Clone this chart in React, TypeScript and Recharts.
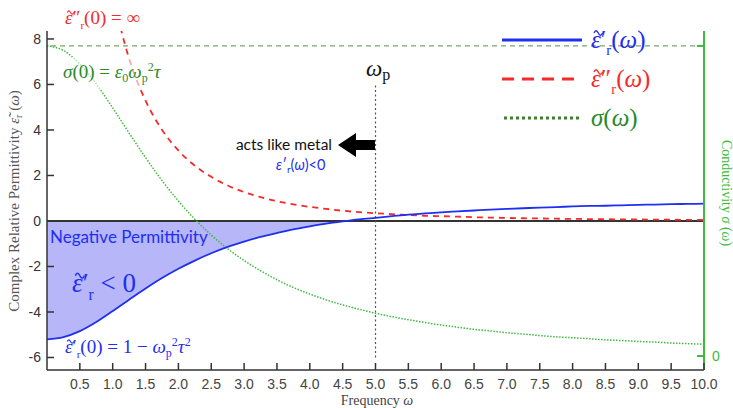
import React from "react";
import {
  Area,
  ComposedChart,
  Line,
  ReferenceLine,
  XAxis,
  YAxis,
} from "recharts";

// frequency samples (x)
const omega = [
  0, 0.25, 0.5, 0.75, 1.0, 1.25, 1.5, 1.75, 2.0, 2.25, 2.5, 2.75, 3.0, 3.25,
  3.5, 3.75, 4.0, 4.25, 4.5, 4.75, 5.0, 5.25, 5.5, 5.75, 6.0, 6.25, 6.5, 6.75,
  7.0, 7.25, 7.5, 7.75, 8.0, 8.25, 8.5, 8.75, 9.0, 9.25, 9.5, 9.75, 10.0,
];

// real part of permittivity (blue, left axis)
const epsReal = [
  -5.2, -5.1, -4.84, -4.44, -3.96, -3.46, -2.97, -2.51, -2.1, -1.74, -1.42,
  -1.14, -0.91, -0.7, -0.53, -0.37, -0.24, -0.12, -0.02, 0.07, 0.14, 0.21,
  0.28, 0.33, 0.38, 0.42, 0.46, 0.5, 0.53, 0.56, 0.59, 0.61, 0.64, 0.66, 0.67,
  0.69, 0.71, 0.72, 0.74, 0.75, 0.76,
];

// imaginary part of permittivity (red, left axis) — off the top below ω≈1
const epsImag = [
  null, null, null, null, 9.92, 7.13, 5.29, 4.01, 3.1, 2.43, 1.94, 1.56, 1.27,
  1.05, 0.87, 0.73, 0.62, 0.53, 0.45, 0.39, 0.34, 0.3, 0.26, 0.23, 0.21, 0.19,
  0.165, 0.15, 0.134, 0.12, 0.11, 0.1, 0.091, 0.084, 0.077, 0.071, 0.065, 0.06,
  0.055, 0.051, 0.048,
];

// conductivity, relative to σ(0) (green, right axis)
const sigma = [
  1, 0.985, 0.941, 0.877, 0.8, 0.719, 0.64, 0.566, 0.5, 0.441, 0.39, 0.346,
  0.308, 0.275, 0.246, 0.221, 0.2, 0.181, 0.165, 0.151, 0.138, 0.127, 0.117,
  0.108, 0.1, 0.093, 0.086, 0.081, 0.075, 0.071, 0.066, 0.062, 0.059, 0.056,
  0.052, 0.05, 0.047, 0.045, 0.042, 0.04, 0.038,
];

const xTicks = [
  0.5, 1.0, 1.5, 2.0, 2.5, 3.0, 3.5, 4.0, 4.5, 5.0, 5.5, 6.0, 6.5, 7.0, 7.5,
  8.0, 8.5, 9.0, 9.5, 10.0,
];
const yTicks = [-6, -4, -2, 0, 2, 4, 6, 8];
const sigmaTicks = [0, 1];

const rows = omega.map((w, i) => ({
  w,
  ep: epsReal[i],
  epp: epsImag[i],
  sigma: sigma[i],
}));

const BLUE = "#1f2ff0";
const RED = "#f52a2a";
const GREEN = "#3cba3c";
const DARKGREEN = "#2a8a2a";
const SANS = "'Liberation Sans', Arial, sans-serif";
const SERIF = "'Liberation Serif', 'Times New Roman', serif";
const CAL = "Lato, 'Open Sans', sans-serif";

function XTick({ x, y, payload }: any) {
  return (
    <g>
      <line x1={x} y1={y} x2={x} y2={y - 7} stroke="#333" strokeWidth={1.5} />
      <text
        x={x}
        y={y + 19}
        textAnchor="middle"
        fontFamily={SANS}
        fontSize={14}
        fill="#444"
      >
        {payload.value.toFixed(1)}
      </text>
    </g>
  );
}

function YTick({ x, y, payload }: any) {
  return (
    <g>
      <line x1={x} y1={y} x2={x + 7} y2={y} stroke="#333" strokeWidth={1.5} />
      <text
        x={x - 6}
        y={y + 5}
        textAnchor="end"
        fontFamily={SANS}
        fontSize={14}
        fill="#333"
      >
        {payload.value}
      </text>
    </g>
  );
}

function RTick({ x, y, payload }: any) {
  return (
    <g>
      <line x1={x - 7} y1={y} x2={x} y2={y} stroke={GREEN} strokeWidth={2} />
      {payload.value === 0 && (
        <text
          x={x + 8}
          y={y + 5}
          fontFamily={SANS}
          fontSize={14}
          fill={GREEN}
        >
          0
        </text>
      )}
    </g>
  );
}

// ε with a drawn tilde, a prime and subscript r, followed by the rest
function MathEps({
  x,
  y,
  fs,
  color,
  primes,
  children,
}: {
  x: number;
  y: number;
  fs: number;
  color: string;
  primes: string;
  children?: React.ReactNode;
}) {
  const tx = x + 0.12 * fs;
  const ty = y - 0.6 * fs;
  const w = 0.34 * fs;
  const h = 0.09 * fs;
  return (
    <g>
      <path
        d={`M${tx} ${ty} q ${w / 4} ${-h * 2} ${w / 2} 0 t ${w / 2} 0`}
        fill="none"
        stroke={color}
        strokeWidth={Math.max(1, fs / 18)}
      />
      <text x={x} y={y} fontFamily={SERIF} fontSize={fs} fill={color}>
        <tspan fontStyle="italic">ε</tspan>
        <tspan>{primes}</tspan>
        <tspan fontSize={0.58 * fs} dy={0.28 * fs}>
          r
        </tspan>
        <tspan dy={-0.28 * fs}>{children}</tspan>
      </text>
    </g>
  );
}

function Overlay() {
  return (
    <svg
      width={733}
      height={408}
      style={{ position: "absolute", left: 0, top: 0, pointerEvents: "none" }}
    >
      {/* axis titles */}
      <text
        transform="translate(19,201) rotate(-90)"
        textAnchor="middle"
        fontFamily={SERIF}
        fontSize={15}
        fill="#555"
      >
        Complex Relative Permittivity <tspan fontStyle="italic">ε̃</tspan>
        <tspan fontSize={10} dy={3}>
          r
        </tspan>
        <tspan dy={-3}> (</tspan>
        <tspan fontStyle="italic">ω</tspan>)
      </text>
      <text
        transform="translate(722,193) rotate(90)"
        textAnchor="middle"
        fontFamily={SERIF}
        fontSize={14}
        fill={GREEN}
      >
        Conductivity <tspan fontStyle="italic">σ</tspan> (
        <tspan fontStyle="italic">ω</tspan>)
      </text>
      <text
        x={377}
        y={405}
        textAnchor="middle"
        fontFamily={SERIF}
        fontSize={14}
        fill="#444"
      >
        Frequency <tspan fontStyle="italic">ω</tspan>
      </text>

      {/* legend */}
      <line x1={502} y1={40} x2={582} y2={40} stroke={BLUE} strokeWidth={3} />
      <line
        x1={502}
        y1={79}
        x2={582}
        y2={79}
        stroke={RED}
        strokeWidth={3}
        strokeDasharray="12 8"
      />
      <line
        x1={504}
        y1={118}
        x2={582}
        y2={118}
        stroke="#3f7f2f"
        strokeWidth={3}
        strokeDasharray="3 3"
      />
      <MathEps x={591} y={48} fs={25} color={BLUE} primes="′">
        (<tspan fontStyle="italic">ω</tspan>)
      </MathEps>
      <MathEps x={591} y={87} fs={25} color={RED} primes="″">
        (<tspan fontStyle="italic">ω</tspan>)
      </MathEps>
      <text x={591} y={126} fontFamily={SERIF} fontSize={25} fill={DARKGREEN}>
        <tspan fontStyle="italic">σ</tspan>(
        <tspan fontStyle="italic">ω</tspan>)
      </text>

      {/* annotations */}
      <MathEps x={65} y={24} fs={19} color={RED} primes="″">
        (0) = ∞
      </MathEps>
      <rect x={60} y={57} width={116} height={32} fill="#fff" opacity={0.6} />
      <text x={63} y={78} fontFamily={SERIF} fontSize={19} fill={DARKGREEN}>
        <tspan fontStyle="italic">σ</tspan>(0) ={" "}
        <tspan fontStyle="italic">ε</tspan>
        <tspan fontSize={12} dy={4}>
          0
        </tspan>
        <tspan fontStyle="italic" dy={-4}>
          ω
        </tspan>
        <tspan fontSize={12} dy={4}>
          p
        </tspan>
        <tspan fontSize={12} dy={-11}>
          2
        </tspan>
        <tspan fontStyle="italic" dy={7}>
          τ
        </tspan>
      </text>
      <text x={366} y={76} fontFamily={SERIF} fontSize={23} fill="#111">
        <tspan fontStyle="italic">ω</tspan>
        <tspan fontSize={16} dy={4}>
          p
        </tspan>
      </text>
      <text
        x={332}
        y={150}
        textAnchor="end"
        fontFamily={CAL}
        fontSize={15.5}
        fill="#111"
      >
        acts like metal
      </text>
      <polygon
        points="338,145 356,133 356,140 375,140 375,150 356,150 356,157"
        fill="#000"
      />
      <text x={276} y={170} fontFamily={CAL} fontSize={14.5} fill={BLUE}>
        <tspan fontStyle="italic">ε</tspan>′
        <tspan fontSize={10} dy={3}>
          r
        </tspan>
        <tspan dy={-3}>(</tspan>
        <tspan fontStyle="italic">ω</tspan>)&lt;0
      </text>
      <text x={50} y={243} fontFamily={CAL} fontSize={17} fill={BLUE}>
        Negative Permittivity
      </text>
      <MathEps x={72} y={292} fs={27} color={BLUE} primes="′">
        {" < 0"}
      </MathEps>
      <MathEps x={65} y={353} fs={19} color={BLUE} primes="′">
        (0) = 1 − <tspan fontStyle="italic">ω</tspan>
        <tspan fontSize={12} dy={4}>
          p
        </tspan>
        <tspan fontSize={12} dy={-11}>
          2
        </tspan>
        <tspan fontStyle="italic" dy={7}>
          τ
        </tspan>
        <tspan fontSize={12} dy={-7}>
          2
        </tspan>
      </MathEps>
    </svg>
  );
}

export default function App() {
  return (
    <div
      style={{
        position: "absolute",
        left: 0,
        top: 0,
        width: 733,
        height: 408,
        background: "#fff",
      }}
    >
      <ComposedChart
        width={733}
        height={408}
        data={rows}
        margin={{ top: 31, right: 0, bottom: 0, left: 0 }}
      >
        <XAxis
          dataKey="w"
          type="number"
          domain={[0, 10]}
          ticks={xTicks}
          height={38}
          tickSize={0}
          tickMargin={0}
          tickLine={false}
          tick={<XTick />}
          stroke="#333"
          strokeWidth={1.5}
          interval={0}
        />
        <YAxis
          yAxisId="left"
          type="number"
          domain={[-6.55, 8.35]}
          allowDataOverflow
          ticks={yTicks}
          width={47}
          tickSize={0}
          tickMargin={0}
          tickLine={false}
          tick={<YTick />}
          stroke="#333"
          strokeWidth={1.5}
          interval={0}
        />
        <YAxis
          yAxisId="right"
          orientation="right"
          type="number"
          domain={[-0.045, 1.048]}
          allowDataOverflow
          ticks={sigmaTicks}
          width={29}
          tickSize={0}
          tickMargin={0}
          tickLine={false}
          tick={<RTick />}
          stroke={GREEN}
          strokeWidth={2}
          interval={0}
        />
        <Area
          yAxisId="left"
          type="monotone"
          dataKey={(d: any) => Math.min(d.ep, 0)}
          baseValue={0}
          stroke="none"
          fill="#b6b6f9"
          fillOpacity={1}
          isAnimationActive={false}
        />
        <ReferenceLine
          yAxisId="right"
          y={1}
          stroke="#7da36d"
          strokeWidth={1.2}
          strokeDasharray="5 4"
        />
        <ReferenceLine
          yAxisId="left"
          y={0}
          stroke="#333"
          strokeWidth={1.8}
        />
        <ReferenceLine
          yAxisId="left"
          segment={[
            { x: 5, y: 5.96 },
            { x: 5, y: -6 },
          ]}
          stroke="#555"
          strokeWidth={1.2}
          strokeDasharray="2 2.5"
        />
        <Line
          yAxisId="right"
          type="monotone"
          dataKey="sigma"
          stroke={GREEN}
          strokeWidth={1.5}
          strokeDasharray="1.5 1.5"
          dot={false}
          isAnimationActive={false}
        />
        <Line
          yAxisId="left"
          type="monotone"
          dataKey="epp"
          stroke={RED}
          strokeWidth={1.8}
          strokeDasharray="6 5"
          dot={false}
          connectNulls={false}
          isAnimationActive={false}
        />
        <Line
          yAxisId="left"
          type="monotone"
          dataKey="ep"
          stroke={BLUE}
          strokeWidth={1.8}
          dot={false}
          isAnimationActive={false}
        />
      </ComposedChart>
      <Overlay />
    </div>
  );
}
